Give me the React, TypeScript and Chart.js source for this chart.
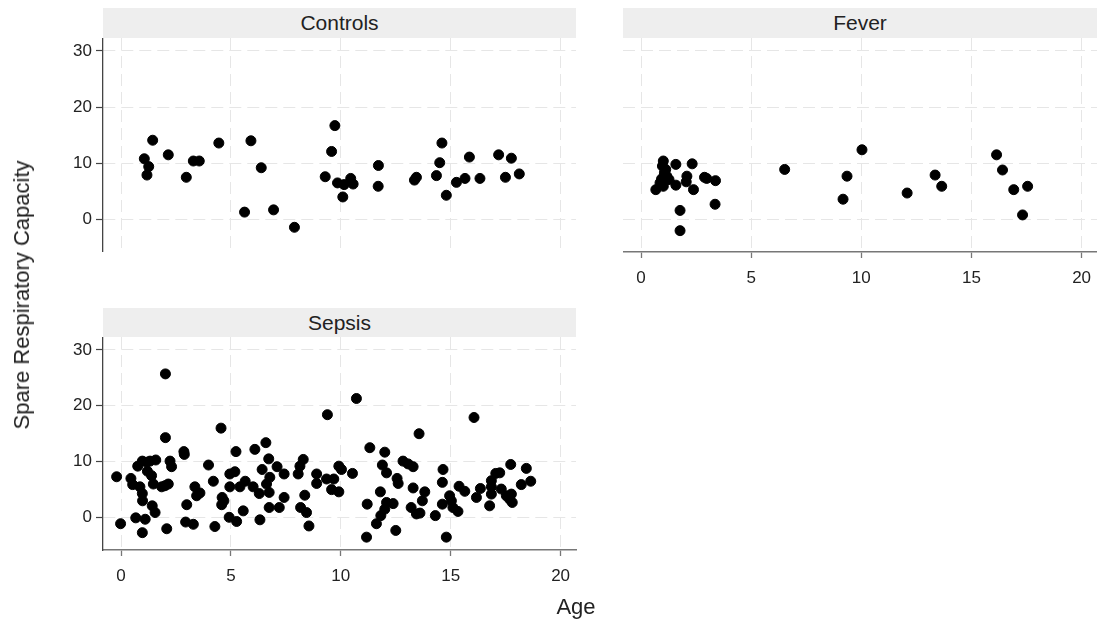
import React, { useEffect, useRef } from "react";
import { Chart, registerables } from "chart.js";

Chart.register(...registerables);

// ---------- data ----------
const X_TICKS = [0, 5, 10, 15, 20];
const Y_TICKS = [0, 10, 20, 30];
const X_MIN = -0.82;
const X_MAX = 20.7;
const Y_MIN = -5.8;
const Y_MAX = 32.3;

const PANEL_TITLES = ["Controls", "Fever", "Sepsis"];
const X_TITLE = "Age";
const Y_TITLE = "Spare Respiratory Capacity";

const controlsAge = [1.06, 1.26, 1.18, 1.44, 2.15, 2.97, 3.29, 3.56, 4.45, 5.62, 5.91, 6.38, 6.94, 7.89, 9.73, 9.58, 9.29, 9.85, 10.15, 10.09, 10.45, 10.56, 11.71, 11.7, 13.35, 13.44, 14.35, 14.5, 14.6, 14.8, 15.26, 15.65, 15.85, 16.33, 17.18, 17.49, 17.76, 18.12];
const controlsSRC = [10.8, 9.4, 7.9, 14.1, 11.5, 7.5, 10.4, 10.4, 13.6, 1.3, 14.0, 9.2, 1.7, -1.4, 16.7, 12.1, 7.6, 6.5, 6.2, 4.0, 7.3, 6.3, 9.6, 5.9, 7.0, 7.5, 7.8, 10.1, 13.6, 4.3, 6.6, 7.3, 11.1, 7.3, 11.5, 7.5, 10.9, 8.1];

const feverAge = [0.67, 1.01, 0.97, 1.06, 0.86, 1.17, 1.27, 1.01, 1.58, 1.58, 1.77, 1.77, 2.08, 2.05, 2.32, 2.38, 2.88, 2.98, 3.38, 3.36, 6.52, 9.35, 9.17, 10.03, 12.08, 13.35, 13.65, 16.14, 16.41, 16.92, 17.55, 17.32, 1.12, 0.93];
const feverSRC = [5.3, 10.4, 9.5, 8.3, 6.5, 7.7, 7.1, 5.9, 9.8, 6.1, 1.6, -2.0, 7.7, 6.7, 9.9, 5.3, 7.5, 7.3, 6.9, 2.7, 8.9, 7.7, 3.6, 12.4, 4.7, 7.9, 5.9, 11.5, 8.8, 5.3, 5.9, 0.8, 8.9, 7.2];

const sepsisAge = [2.02, 2.02, 4.55, -0.2, -0.02, 0.45, 0.53, 0.67, 0.76, 0.86, 0.97, 0.97, 0.98, 0.97, 1.1, 1.17, 1.2, 1.32, 1.39, 1.42, 1.55, 1.47, 1.58, 1.85, 2.0, 2.15, 2.08, 2.23, 2.3, 2.86, 2.88, 2.94, 2.99, 3.29, 3.36, 3.44, 3.59, 3.98, 4.2, 4.27, 4.6, 4.58, 4.68, 4.92, 4.95, 4.95, 5.18, 5.26, 5.23, 5.41, 5.56, 5.65, 6.09, 6.01, 6.29, 6.32, 6.42, 6.59, 6.72, 6.74, 6.62, 6.77, 6.74, 7.2, 7.1, 7.42, 7.42, 8.06, 8.14, 8.29, 8.17, 8.36, 8.44, 8.55, 8.9, 8.9, 9.35, 9.68, 9.58, 9.91, 9.39, 9.91, 10.03, 10.53, 10.71, 11.2, 11.17, 11.32, 11.62, 11.82, 11.8, 11.89, 12.0, 12.08, 12.0, 12.08, 12.38, 12.5, 12.56, 12.61, 12.83, 13.06, 13.29, 13.29, 13.56, 13.2, 13.44, 13.71, 13.82, 16.06, 14.65, 14.62, 13.6, 14.3, 14.8, 14.62, 14.95, 15.03, 15.1, 15.33, 15.38, 15.64, 16.17, 16.35, 16.77, 16.85, 16.85, 16.85, 17.05, 17.23, 17.3, 17.53, 17.68, 17.8, 17.73, 17.76, 18.21, 18.44, 18.64];
const sepsisSRC = [25.7, 14.3, 16.0, 7.3, -1.1, 7.0, 5.9, -0.05, 9.2, 5.5, 10.1, 4.3, 3.0, -2.7, -0.3, 9.9, 8.3, 10.1, 7.5, 2.1, 0.9, 6.0, 10.3, 5.5, 5.7, 6.0, -2.0, 10.1, 9.1, 11.8, 11.3, -0.8, 2.3, -1.2, 5.5, 3.9, 4.4, 9.4, 6.5, -1.6, 3.6, 2.3, 3.0, 0.05, 5.5, 7.8, 8.2, -0.7, 11.8, 5.5, 1.2, 6.5, 12.2, 5.5, 4.3, -0.4, 8.6, 13.4, 10.5, 1.8, 6.0, 7.2, 4.5, 1.8, 9.1, 7.8, 3.6, 7.8, 9.2, 10.4, 1.8, 4.0, 0.9, -1.5, 7.8, 6.1, 6.9, 6.9, 5.0, 4.6, 18.4, 9.2, 8.6, 7.9, 21.3, 2.4, -3.5, 12.5, -1.1, 0.35, 4.6, 9.4, 11.7, 8.0, 1.5, 2.7, 2.5, -2.3, 7.0, 6.1, 10.1, 9.6, 9.1, 5.3, 15.0, 1.8, 0.65, 3.0, 4.6, 17.9, 8.6, 6.3, 0.8, 0.35, -3.5, 2.4, 3.9, 3.0, 1.8, 1.1, 5.6, 4.7, 3.6, 5.2, 2.1, 6.6, 5.5, 4.2, 7.9, 8.0, 5.1, 3.9, 3.3, 2.7, 9.5, 4.2, 5.9, 8.8, 6.5];

// ---------- styles ----------
const FONT = "'Liberation Sans', Arial, Helvetica, sans-serif";
const GRID_COLOR = "#e6e6e6";
const AXIS_Y = "#444444";
const AXIS_X = "#777777";
const TEXT = "#222222";

type PanelSpec = {
  left: number;
  top: number;
  width: number;
  height: number;
  yAxisWidth: number;
  xAxisHeight: number;
  padRight: number;
  showX: boolean;
  showY: boolean;
  xs: number[];
  ys: number[];
};

function zeroPad(s: any) {
  s.paddingTop = 0;
  s.paddingBottom = 0;
  s.paddingLeft = 0;
  s.paddingRight = 0;
}

function Panel({ spec }: { spec: PanelSpec }) {
  const ref = useRef<HTMLCanvasElement | null>(null);
  useEffect(() => {
    if (!ref.current) return;
    const pts = spec.xs.map((x, i) => ({ x, y: spec.ys[i] }));
    const chart = new Chart(ref.current, {
      type: "scatter",
      data: {
        datasets: [
          {
            data: pts,
            backgroundColor: "#000000",
            borderColor: "#000000",
            borderWidth: 1,
            pointRadius: 5,
          },
        ],
      },
      options: {
        animation: false,
        responsive: false,
        maintainAspectRatio: false,
        layout: { autoPadding: false, padding: { left: 0, right: spec.padRight, top: 0, bottom: 0 } },
        plugins: { legend: { display: false }, tooltip: { enabled: false }, title: { display: false } },
        scales: {
          x: {
            type: "linear",
            min: X_MIN,
            max: X_MAX,
            afterBuildTicks: (s: any) => {
              s.ticks = X_TICKS.map((v) => ({ value: v }));
            },
            afterFit: (s: any) => {
              s.height = spec.xAxisHeight;
              zeroPad(s);
            },
            grid: {
              color: GRID_COLOR,
              lineWidth: 1,
              drawTicks: spec.showX,
              tickLength: 6,
              tickColor: AXIS_X,
              tickWidth: 1.3,
            },
            border: { display: spec.showX, color: AXIS_X, width: 1.6, dash: [12, 6] },
            ticks: {
              display: spec.showX,
              padding: 10,
              color: TEXT,
              autoSkip: false,
              maxRotation: 0,
              font: { family: FONT, size: 17 },
            },
          },
          y: {
            type: "linear",
            min: Y_MIN,
            max: Y_MAX,
            afterBuildTicks: (s: any) => {
              s.ticks = Y_TICKS.map((v) => ({ value: v }));
            },
            afterFit: (s: any) => {
              s.width = spec.yAxisWidth;
              zeroPad(s);
            },
            grid: {
              color: GRID_COLOR,
              lineWidth: 1,
              drawTicks: spec.showY,
              tickLength: 7,
              tickColor: AXIS_Y,
              tickWidth: 1.2,
            },
            border: { display: spec.showY, color: AXIS_Y, width: 1.3, dash: [12, 6] },
            ticks: {
              display: spec.showY,
              padding: 4,
              color: TEXT,
              autoSkip: false,
              font: { family: FONT, size: 17 },
            },
          },
        },
      } as any,
    });
    return () => chart.destroy();
  }, [spec]);
  return (
    <canvas
      ref={ref}
      width={spec.width}
      height={spec.height}
      style={{ position: "absolute", left: spec.left, top: spec.top, width: spec.width, height: spec.height }}
    />
  );
}

const controlsSpec: PanelSpec = {
  left: 0, top: 38, width: 580, height: 214,
  yAxisWidth: 103, xAxisHeight: 0, padRight: 4,
  showX: false, showY: true, xs: controlsAge, ys: controlsSRC,
};
const feverSpec: PanelSpec = {
  left: 623, top: 38, width: 474, height: 270,
  yAxisWidth: 0, xAxisHeight: 56, padRight: 0,
  showX: true, showY: false, xs: feverAge, ys: feverSRC,
};
const sepsisSpec: PanelSpec = {
  left: 0, top: 337, width: 580, height: 285,
  yAxisWidth: 103, xAxisHeight: 72, padRight: 4,
  showX: true, showY: true, xs: sepsisAge, ys: sepsisSRC,
};

function Strip({ left, top, width, height, text }: { left: number; top: number; width: number; height: number; text: string }) {
  return (
    <div
      style={{
        position: "absolute", left, top, width, height,
        background: "#eeeeee", color: TEXT, fontFamily: FONT, fontSize: 21,
        lineHeight: height + "px", textAlign: "center", whiteSpace: "nowrap",
      }}
    >
      {text}
    </div>
  );
}

export default function App() {
  return (
    <div style={{ position: "absolute", left: 0, top: 0, width: 1097, height: 622, background: "#ffffff", overflow: "hidden" }}>
      <Strip left={103} top={8} width={473} height={30} text={PANEL_TITLES[0]} />
      <Strip left={623} top={8} width={474} height={30} text={PANEL_TITLES[1]} />
      <Strip left={103} top={308} width={473} height={29} text={PANEL_TITLES[2]} />
      <Panel spec={controlsSpec} />
      <Panel spec={feverSpec} />
      <Panel spec={sepsisSpec} />
      <div
        style={{
          position: "absolute", left: 576, top: 607, transform: "translate(-50%, -50%)",
          fontFamily: FONT, fontSize: 22, color: TEXT, whiteSpace: "nowrap",
        }}
      >
        {X_TITLE}
      </div>
      <div
        style={{
          position: "absolute", left: 22, top: 295, transform: "translate(-50%, -50%) rotate(-90deg)",
          fontFamily: FONT, fontSize: 22, color: TEXT, whiteSpace: "nowrap",
        }}
      >
        {Y_TITLE}
      </div>
    </div>
  );
}
